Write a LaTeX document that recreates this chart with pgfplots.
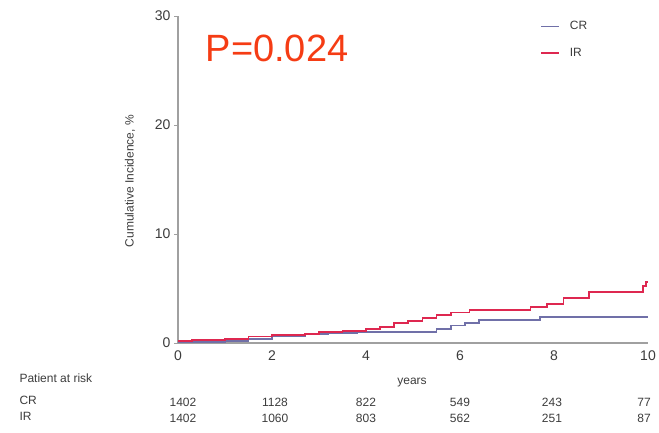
\documentclass[border=0pt]{standalone}
\usepackage{pgfplots}
\pgfplotsset{compat=1.18}
\usepackage{fontspec}
\setmainfont{Liberation Sans}
\definecolor{crc}{RGB}{112,112,168}
\definecolor{irc}{RGB}{222,40,80}
\definecolor{pc}{RGB}{245,60,20}
\definecolor{axc}{RGB}{160,160,160}
\definecolor{txc}{RGB}{60,60,60}
\begin{document}
\begin{tikzpicture}[x=1pt,y=1pt]
\path[use as bounding box] (0,0) rectangle (659,433);
\begin{axis}[
  at={(178pt,90pt)}, anchor=south west,
  scale only axis, width=470pt, height=327pt,
  xmin=0, xmax=10, ymin=0, ymax=30,
  axis lines=left,
  axis line style={-, draw=axc, line width=1.2pt},
  xtick={0,2,...,10}, ytick={0,10,20,30},
  xtick style={draw=none},
  ytick style={draw=axc, line width=0.8pt},
  tick align=outside, major tick length=4pt,
  ticklabel style={font=\fontsize{14}{16}\selectfont, text=txc},
  /pgf/number format/assume math mode=true,
  legend style={at={(0.77,0.99)}, anchor=north west, draw=none, fill=none,
    font=\fontsize{12}{14}\selectfont, text=txc, row sep=13pt, inner sep=0pt},
  legend cell align=left,
  legend image code/.code={\draw[#1, line width=1.8pt] (0pt,0pt) -- (18pt,0pt); \path (26pt,0pt);},
  clip=false,
]
\addplot[const plot, crc, line width=1.8pt] coordinates {
(0,0.1) (1,0.2) (1.5,0.4) (2,0.6) (2.7,0.8) (3.2,0.9) (3.8,1.0) (5.3,1.0)
(5.5,1.3) (5.8,1.6) (6.1,1.8) (6.4,2.1) (7.7,2.4) (10,2.4)};
\addlegendentry{CR}
\addplot[const plot, irc, line width=1.8pt] coordinates {
(0,0.2) (0.3,0.3) (1.0,0.4) (1.5,0.6) (2.0,0.7) (2.7,0.8) (3.0,1.0) (3.5,1.1)
(4.0,1.3) (4.3,1.5) (4.6,1.8) (4.9,2.0) (5.2,2.3) (5.5,2.6) (5.8,2.8) (6.2,3.0)
(7.5,3.3) (7.85,3.6) (8.2,4.1) (8.75,4.7) (9.9,5.2) (9.95,5.6) (10,5.6)};
\addlegendentry{IR}
\end{axis}
\node[rotate=90, font=\fontsize{12}{14}\selectfont, text=txc] at (130,252) {Cumulative Incidence, \%};
\node[font=\fontsize{38}{40}\selectfont, text=pc] at (277,385) {P=0.024};
\node[font=\fontsize{12}{14}\selectfont, text=txc] at (412,50) {years};
\node[font=\fontsize{12}{14}\selectfont, text=txc, anchor=west] at (16,55) {Patient at risk};
\node[font=\fontsize{12}{14}\selectfont, text=txc, anchor=west] at (16,33) {CR};
\node[font=\fontsize{12}{14}\selectfont, text=txc, anchor=west] at (16,17) {IR};
\foreach \x/\a/\b in {183/1402/1402, 275/1128/1060, 366/822/803, 460/549/562, 552/243/251, 644/77/87} {
  \node[font=\fontsize{12}{14}\selectfont, text=txc] at (\x,31) {\a};
  \node[font=\fontsize{12}{14}\selectfont, text=txc] at (\x,15) {\b};
}
\end{tikzpicture}
\end{document}
